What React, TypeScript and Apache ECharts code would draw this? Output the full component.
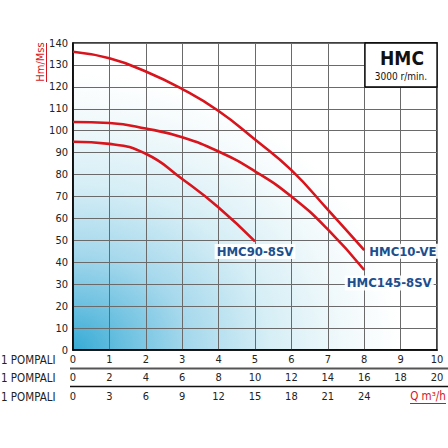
import React, { useEffect, useRef } from "react";
import * as echarts from "echarts";

// flow axis (row 1 scale, 0..10)
const flowPoints = [0, 1, 2, 3, 4, 5, 6, 7, 8];
const hmc10VE = [136, 133, 127, 119, 109, 96, 82, 64, 45.5];
const hmc145_8SV = [104, 103.5, 101, 97, 90.5, 81.5, 70, 55, 36.5];
const hmc90_8SV = [95, 94, 89.5, 78, 65, 49.5];

const seriesNames = ["HMC10-VE", "HMC145-8SV", "HMC90-8SV"];
const rowLabels = ["1 POMPALI", "1 POMPALI", "1 POMPALI"];
const row1Max = 10;
const row2Max = 20;
const row3Max = 30;
const row3LastLabel = 24;
const yMax = 140;
const titleMain = "HMC";
const titleSub = "3000 r/min.";
const yName = "Hm/Mss";
const qName = "Q m³/h";

const NARROW = "'Liberation Sans Narrow', 'DejaVu Sans Condensed', 'Arial Narrow', sans-serif";
const RED = "#d8141c";
const BLUE = "#1c4f8e";

function pairs(ys: number[]) {
  return ys.map((y, i) => [flowPoints[i], y]);
}

export default function App() {
  const ref = useRef<HTMLDivElement>(null);
  useEffect(() => {
    if (!ref.current) return;
    const chart = echarts.init(ref.current, undefined, { renderer: "svg" });
    const labelBase = {
      show: true,
      fontFamily: NARROW,
      fontWeight: "bold" as const,
      fontSize: 13,
      color: BLUE,
      distance: 0,
      backgroundColor: "rgba(255,255,255,0.92)",
      padding: [1, 2],
    };
    const lineStyle = { color: RED, width: 2.6 };
    const tickLabel = { fontSize: 11, color: "#222", fontFamily: NARROW };
    const option: any = {
      animation: false,
      grid: {
        left: 73,
        right: 11,
        top: 43,
        bottom: 98,
        show: true,
        borderColor: "#000",
        borderWidth: 1.5,
        backgroundColor: new echarts.graphic.RadialGradient(0, 1, 0.9, [
          { offset: 0, color: "#36aad5" },
          { offset: 0.15, color: "#68bfe0" },
          { offset: 0.35, color: "#a5d8ec" },
          { offset: 0.6, color: "#d6eef6" },
          { offset: 0.85, color: "#f3fafc" },
          { offset: 1, color: "#ffffff" },
        ]),
      },
      xAxis: [
        {
          type: "value",
          min: 0,
          max: row1Max,
          interval: 1,
          position: "bottom",
          axisLine: { show: true, lineStyle: { color: "#000", width: 1.5 } },
          axisTick: { show: false },
          axisLabel: { margin: 4, ...tickLabel },
          splitLine: { show: true, lineStyle: { color: "#6a6a6a", width: 1 } },
        },
        {
          type: "value",
          min: 0,
          max: row2Max,
          interval: 2,
          position: "bottom",
          offset: 18,
          axisLine: { show: false },
          axisTick: { show: false },
          axisLabel: { margin: 4, ...tickLabel },
          splitLine: { show: false },
        },
        {
          type: "value",
          min: 0,
          max: row3Max,
          interval: 3,
          position: "bottom",
          offset: 36,
          axisLine: { show: false },
          axisTick: { show: false },
          axisLabel: {
            margin: 4.5,
            ...tickLabel,
            formatter: (v: number) => (v > row3LastLabel ? "" : String(v)),
          },
          splitLine: { show: false },
        },
      ],
      yAxis: {
        type: "value",
        min: 0,
        max: yMax,
        interval: 10,
        axisLine: { show: true, lineStyle: { color: "#000", width: 1.5 } },
        axisTick: { show: false },
        axisLabel: { margin: 5, ...tickLabel },
        splitLine: { show: true, lineStyle: { color: "#6a6a6a", width: 1 } },
      },
      series: [
        {
          name: seriesNames[0],
          type: "line",
          smooth: true,
          symbol: "none",
          lineStyle,
          data: pairs(hmc10VE),
          endLabel: {
            ...labelBase,
            formatter: seriesNames[0],
            align: "left",
            verticalAlign: "middle",
            offset: [3, 1],
          },
        },
        {
          name: seriesNames[1],
          type: "line",
          smooth: true,
          symbol: "none",
          lineStyle,
          data: pairs(hmc145_8SV),
          endLabel: {
            ...labelBase,
            formatter: seriesNames[1],
            align: "center",
            verticalAlign: "middle",
            offset: [25, 13],
          },
        },
        {
          name: seriesNames[2],
          type: "line",
          smooth: true,
          symbol: "none",
          lineStyle,
          data: pairs(hmc90_8SV),
          endLabel: {
            ...labelBase,
            formatter: seriesNames[2],
            align: "center",
            verticalAlign: "middle",
            offset: [0, 10],
          },
        },
      ],
      graphic: [
        {
          type: "rect",
          z: 10,
          shape: { x: 365, y: 43, width: 72, height: 44 },
          style: { fill: "#fff", stroke: "#000", lineWidth: 1.3 },
        },
        {
          type: "text",
          z: 11,
          x: 402,
          y: 58,
          style: {
            text: titleMain,
            fontFamily: NARROW,
            fontWeight: "bold",
            fontSize: 19,
            fill: "#111",
            align: "center",
            verticalAlign: "middle",
          },
        },
        {
          type: "text",
          z: 11,
          x: 401,
          y: 76,
          style: {
            text: titleSub,
            fontFamily: NARROW,
            fontSize: 10,
            fill: "#111",
            align: "center",
            verticalAlign: "middle",
          },
        },
        {
          type: "text",
          x: 40,
          y: 62,
          rotation: Math.PI / 2,
          style: {
            text: yName,
            fontFamily: NARROW,
            fontSize: 11,
            fill: RED,
            align: "center",
            verticalAlign: "middle",
          },
        },
        {
          type: "line",
          shape: { x1: 46.5, y1: 43, x2: 46.5, y2: 82 },
          style: { stroke: RED, lineWidth: 1 },
        },
        ...rowLabels.map((t, i) => ({
          type: "text",
          x: 1,
          y: [360, 378, 397][i],
          style: {
            text: t,
            fontFamily: NARROW,
            fontSize: 11.5,
            fill: "#222",
            align: "left",
            verticalAlign: "middle",
          },
        })),
        {
          type: "line",
          shape: { x1: 70, y1: 368.5, x2: 448, y2: 368.5 },
          style: { stroke: "#555", lineWidth: 2 },
        },
        {
          type: "line",
          shape: { x1: 70, y1: 386.5, x2: 448, y2: 386.5 },
          style: { stroke: "#111", lineWidth: 1.5 },
        },
        {
          type: "text",
          x: 428,
          y: 396,
          style: {
            text: qName,
            fontFamily: NARROW,
            fontSize: 11.5,
            fill: RED,
            align: "center",
            verticalAlign: "middle",
          },
        },
        {
          type: "line",
          shape: { x1: 410, y1: 403.5, x2: 446, y2: 403.5 },
          style: { stroke: RED, lineWidth: 1 },
        },
      ],
    };
    chart.setOption(option);
    return () => chart.dispose();
  }, []);
  return (
    <div
      ref={ref}
      style={{ position: "fixed", left: 0, top: 0, width: 448, height: 448, background: "#fff" }}
    />
  );
}
